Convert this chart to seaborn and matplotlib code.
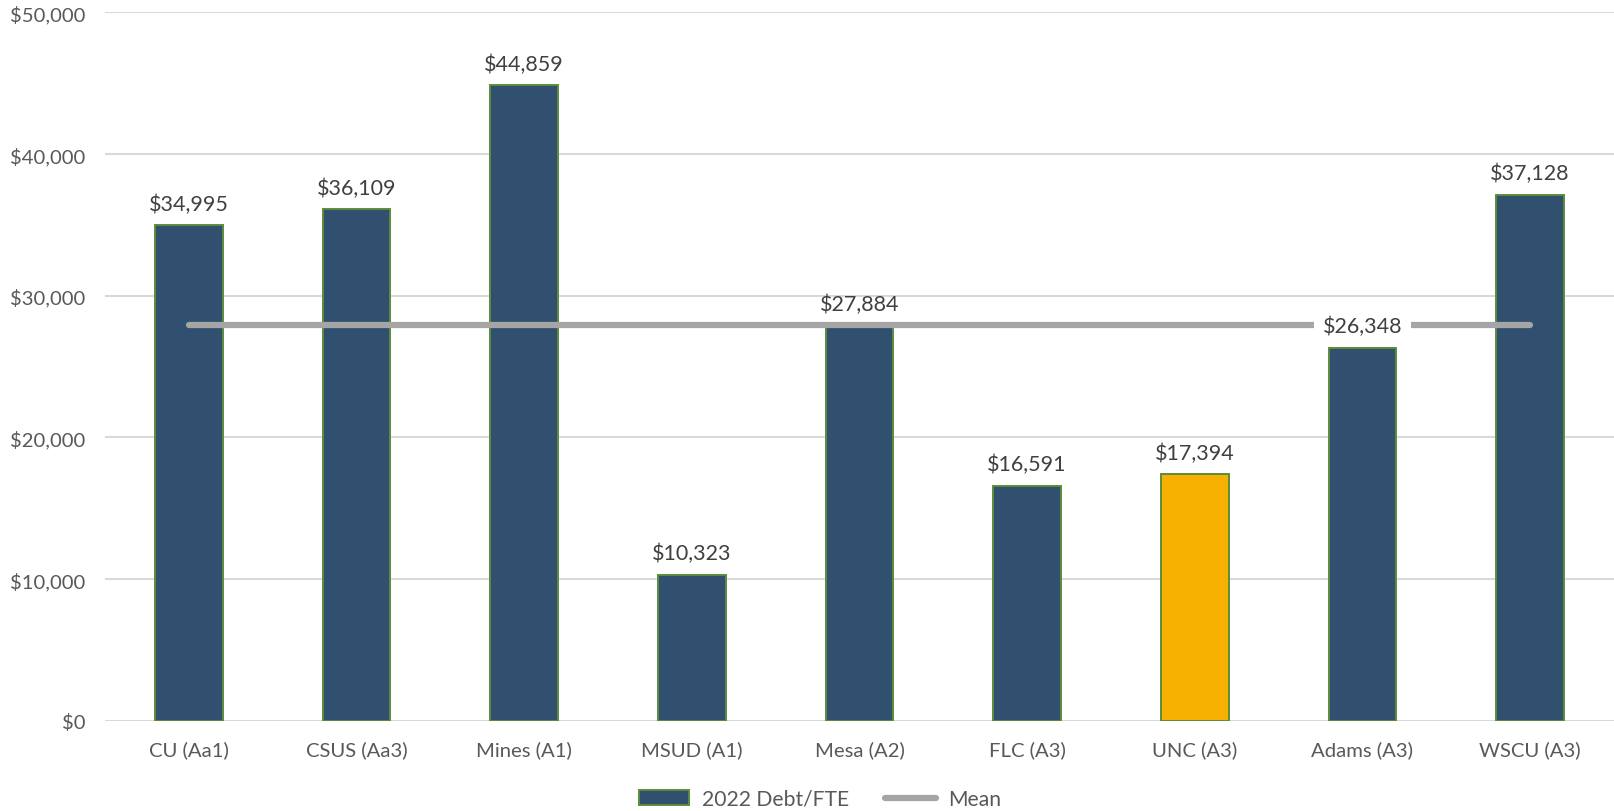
import matplotlib
matplotlib.use("Agg")
import matplotlib.pyplot as plt
import seaborn as sns
import numpy as np
import pandas as pd
from matplotlib.patches import Patch
from matplotlib.lines import Line2D
from matplotlib.ticker import FuncFormatter

categories = ["CU (Aa1)", "CSUS (Aa3)", "Mines (A1)", "MSUD (A1)", "Mesa (A2)",
              "FLC (A3)", "UNC (A3)", "Adams (A3)", "WSCU (A3)"]
debt_fte = [34995, 36109, 44859, 10323, 27884, 16591, 17394, 26348, 37128]
highlight = "UNC (A3)"
yticks = [0, 10000, 20000, 30000, 40000, 50000]

NAVY = "#31506F"
GOLD = "#F5B000"
EDGE = "#5B8C3A"
GRID = "#D9D9D9"
MEANC = "#A5A5A5"
TXT = "#595959"
LBL = "#404040"

sns.set_theme(style="white")
plt.rcParams["font.family"] = ["Lato", "DejaVu Sans"]

df = pd.DataFrame({"cat": categories, "val": debt_fte})
mean_val = float(np.mean(debt_fte))

fig = plt.figure(figsize=(16.14, 8.12), dpi=100)
fig.patch.set_facecolor("white")
ax = fig.add_axes([105 / 1614, 1 - 721.8 / 812, 1 - 105 / 1614, (721.8 - 13.4) / 812])
ax.set_facecolor("none")

palette = {c: (GOLD if c == highlight else NAVY) for c in categories}
sns.barplot(data=df, x="cat", y="val", hue="cat", palette=palette, legend=False,
            width=0.405, edgecolor=EDGE, linewidth=1.4, saturation=1, ax=ax, zorder=2)

ax.plot(range(len(categories)), [mean_val] * len(categories), color=MEANC, lw=4.5,
        solid_capstyle="round", zorder=3)

labels = []
for i, v in enumerate(debt_fte):
    t = ax.annotate(f"${v:,}", (i, v), xytext=(0, 15.5), textcoords="offset points",
                    ha="center", va="center", fontsize=15.5, color=LBL, zorder=5)
    labels.append(t)

ax.set_ylim(0, 50000)
ax.set_xlim(-0.5, len(categories) - 0.5)
ax.set_yticks(yticks)
ax.yaxis.set_major_formatter(FuncFormatter(lambda v, p: f"${int(v):,}"))
ax.grid(axis="y", color=GRID, lw=1.5, zorder=0)
ax.set_axisbelow(True)
for s in ax.spines.values():
    s.set_visible(False)
ax.tick_params(axis="both", length=0, labelsize=14.6, labelcolor=TXT)
ax.tick_params(axis="y", pad=14)
ax.tick_params(axis="x", pad=14)
ax.set_xlabel("")
ax.set_ylabel("")

# labels that sit on the mean line get a white background that interrupts the line
fig.canvas.draw()
renderer = fig.canvas.get_renderer()
mean_disp_y = ax.transData.transform((0, mean_val))[1]
for t in labels:
    ext = t.get_window_extent(renderer)
    if ext.y0 - 4 <= mean_disp_y <= ext.y1 + 4:
        t.set_bbox(dict(boxstyle="square,pad=0.4", fc="white", ec="none"))

handles = [Patch(facecolor=NAVY, edgecolor=EDGE, linewidth=1.4, label="2022 Debt/FTE"),
           Line2D([0], [0], color=MEANC, lw=4.5, solid_capstyle="round", label="Mean")]
fig.legend(handles=handles, loc="center", bbox_to_anchor=(0.508, 1 - 800 / 812), ncol=2,
           frameon=False, fontsize=15.2, labelcolor=TXT, handlelength=2.4,
           handleheight=0.7, columnspacing=1.7, handletextpad=0.6)

fig.savefig("out.png", dpi=100, facecolor="white")
